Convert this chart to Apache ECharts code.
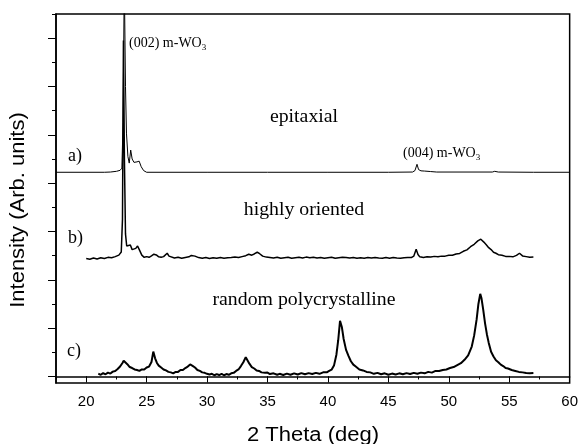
<!DOCTYPE html>
<html>
<head>
<meta charset="utf-8">
<title>XRD of WO3 films</title>
<script src="https://cdn.jsdelivr.net/npm/echarts@6/dist/echarts.min.js"></script>
<style>
  html, body { margin: 0; padding: 0; background: #fff; }
  #chart { width: 581px; height: 444px; }
</style>
</head>
<body>
<div id="chart"></div>
<script>
// axis ticks
var xMajorTicks = [20, 25, 30, 35, 40, 45, 50, 55, 60];
var yMinorTicks = [0, 1, 2, 3, 4, 5, 6, 7, 8, 9, 10, 11, 12, 13, 14, 15];
var yMajorTicks = [0, 2, 4, 6, 8, 10, 12, 14];

// a) epitaxial  [2theta, intensity]
var epitaxial = [
  [17.5, 8.45], [21.5, 8.45], [22.0, 8.46], [22.5, 8.49], [22.8, 8.53], [22.95, 8.62],
  [23.05, 10.5], [23.15, 16.5], [23.25, 12.0], [23.33, 10.07], [23.45, 9.1], [23.56, 8.83],
  [23.68, 9.37], [23.8, 9.0], [23.95, 8.86], [24.05, 8.83], [24.2, 8.88], [24.38, 8.91],
  [24.55, 8.68], [24.75, 8.52], [25.0, 8.45], [30.0, 8.45], [35.0, 8.45], [40.0, 8.45],
  [45.0, 8.45], [47.0, 8.46], [47.2, 8.52], [47.37, 8.78], [47.5, 8.56], [47.7, 8.51],
  [48.0, 8.50], [48.5, 8.48], [49.0, 8.46], [53.6, 8.46], [53.8, 8.49], [54.1, 8.46],
  [57.0, 8.45], [60.0, 8.45]
];

// b) highly oriented
var highlyOriented = [
  [20.0, 4.88], [20.3, 4.85], [20.6, 4.90], [20.9, 4.86], [21.2, 4.91], [21.5, 4.88],
  [21.8, 4.93], [22.1, 4.91], [22.4, 4.96], [22.7, 5.02], [22.9, 5.15], [23.0, 6.5],
  [23.08, 13.9], [23.16, 9.0], [23.25, 5.9], [23.35, 5.4], [23.5, 5.32], [23.65, 5.44],
  [23.8, 5.25], [23.95, 5.17], [24.1, 5.30], [24.25, 5.40], [24.4, 5.24], [24.6, 5.02],
  [24.8, 4.93], [25.0, 4.96], [25.2, 4.93], [25.4, 4.99], [25.6, 5.06], [25.8, 5.03],
  [26.0, 4.95], [26.2, 4.93], [26.4, 4.96], [26.55, 5.02], [26.7, 5.10], [26.85, 4.98],
  [27.0, 4.93], [27.3, 4.90], [27.6, 4.93], [27.9, 4.89], [28.2, 4.92], [28.5, 4.95],
  [28.7, 5.01], [28.85, 5.05], [29.0, 4.98], [29.3, 4.92], [29.6, 4.89], [29.9, 4.92],
  [30.2, 4.88], [30.5, 4.91], [30.8, 4.89], [31.1, 4.92], [31.4, 4.89], [31.7, 4.91],
  [32.0, 4.92], [32.3, 4.94], [32.6, 4.92], [32.9, 4.96], [33.2, 5.00], [33.45, 5.06],
  [33.7, 5.02], [33.9, 5.07], [34.15, 5.14], [34.35, 5.08], [34.6, 4.98], [34.9, 4.94],
  [35.2, 4.92], [35.5, 4.90], [35.8, 4.93], [36.1, 4.89], [36.4, 4.91], [36.7, 4.93],
  [37.0, 4.89], [37.3, 4.91], [37.6, 4.93], [37.9, 4.90], [38.2, 4.94], [38.5, 4.91],
  [38.8, 4.93], [39.1, 4.90], [39.4, 4.92], [39.7, 4.89], [40.0, 4.91], [40.3, 4.93],
  [40.6, 4.89], [40.9, 4.91], [41.2, 4.93], [41.5, 4.92], [41.8, 4.90], [42.1, 4.92],
  [42.4, 4.89], [42.7, 4.91], [43.0, 4.89], [43.3, 4.92], [43.6, 4.90], [43.9, 4.92],
  [44.2, 4.90], [44.5, 4.89], [44.8, 4.92], [45.1, 4.89], [45.4, 4.92], [45.7, 4.90],
  [46.0, 4.89], [46.3, 4.91], [46.6, 4.92], [46.9, 4.92], [47.1, 4.98], [47.3, 5.26],
  [47.45, 5.05], [47.6, 4.95], [47.9, 4.92], [48.2, 4.95], [48.5, 4.94], [48.8, 4.97],
  [49.1, 4.95], [49.4, 4.98], [49.7, 4.98], [50.0, 5.02], [50.3, 5.02], [50.6, 5.07],
  [50.9, 5.09], [51.2, 5.18], [51.5, 5.24], [51.8, 5.37], [52.1, 5.47], [52.4, 5.61],
  [52.65, 5.68], [52.9, 5.56], [53.1, 5.45], [53.3, 5.33], [53.5, 5.25], [53.7, 5.14],
  [53.9, 5.10], [54.1, 5.04], [54.4, 5.02], [54.7, 4.97], [55.0, 4.97], [55.3, 4.95],
  [55.6, 5.01], [55.85, 5.10], [56.1, 4.99], [56.4, 4.96], [56.7, 4.93], [57.0, 4.94]
];

// c) random polycrystalline
var randomPoly = [
  [21.0, 0.12], [21.2, 0.07], [21.4, 0.14], [21.6, 0.09], [21.8, 0.16], [22.0, 0.12],
  [22.2, 0.20], [22.4, 0.23], [22.6, 0.31], [22.8, 0.41], [23.0, 0.56], [23.1, 0.65],
  [23.2, 0.57], [23.4, 0.51], [23.6, 0.39], [23.8, 0.35], [24.0, 0.29], [24.2, 0.27],
  [24.4, 0.23], [24.6, 0.29], [24.8, 0.29], [25.0, 0.37], [25.2, 0.41], [25.4, 0.60],
  [25.55, 1.03], [25.7, 0.75], [25.85, 0.56], [26.0, 0.45], [26.2, 0.37], [26.4, 0.29],
  [26.6, 0.25], [26.8, 0.19], [27.0, 0.17], [27.2, 0.13], [27.4, 0.19], [27.6, 0.19],
  [27.8, 0.27], [28.0, 0.27], [28.2, 0.35], [28.4, 0.41], [28.6, 0.50], [28.7, 0.52],
  [28.8, 0.44], [29.0, 0.37], [29.2, 0.27], [29.4, 0.23], [29.6, 0.17], [29.8, 0.15],
  [30.0, 0.11], [30.2, 0.08], [30.4, 0.11], [30.6, 0.05], [30.8, 0.10], [31.0, 0.06],
  [31.2, 0.11], [31.4, 0.05], [31.6, 0.10], [31.8, 0.07], [32.0, 0.13], [32.2, 0.15],
  [32.4, 0.23], [32.6, 0.29], [32.8, 0.43], [33.0, 0.59], [33.2, 0.80], [33.3, 0.72],
  [33.5, 0.53], [33.7, 0.39], [33.9, 0.33], [34.1, 0.25], [34.3, 0.23], [34.5, 0.17],
  [34.8, 0.15], [35.0, 0.16], [35.2, 0.10], [35.5, 0.13], [35.8, 0.07], [36.0, 0.11],
  [36.3, 0.06], [36.6, 0.12], [36.9, 0.07], [37.2, 0.13], [37.5, 0.08], [37.8, 0.14],
  [38.1, 0.09], [38.4, 0.14], [38.7, 0.10], [39.0, 0.15], [39.3, 0.11], [39.6, 0.17],
  [39.9, 0.17], [40.1, 0.23], [40.3, 0.28], [40.5, 0.45], [40.7, 0.90], [40.85, 1.50],
  [41.0, 2.30], [41.06, 2.37], [41.15, 2.05], [41.3, 1.55], [41.5, 1.10], [41.7, 0.85],
  [41.9, 0.63], [42.1, 0.49], [42.3, 0.41], [42.6, 0.29], [42.9, 0.25], [43.2, 0.19],
  [43.5, 0.17], [43.8, 0.11], [44.1, 0.15], [44.4, 0.09], [44.7, 0.13], [45.0, 0.07],
  [45.3, 0.12], [45.6, 0.08], [45.9, 0.13], [46.2, 0.09], [46.5, 0.14], [46.8, 0.10],
  [47.1, 0.15], [47.4, 0.11], [47.7, 0.16], [48.0, 0.13], [48.3, 0.19], [48.6, 0.16],
  [48.9, 0.23], [49.2, 0.23], [49.5, 0.27], [49.8, 0.29], [50.1, 0.35], [50.4, 0.39],
  [50.7, 0.47], [51.0, 0.55], [51.3, 0.69], [51.6, 0.87], [51.9, 1.24], [52.1, 1.70],
  [52.3, 2.35], [52.45, 3.00], [52.6, 3.42], [52.7, 3.25], [52.85, 2.76], [53.0, 2.20],
  [53.15, 1.75], [53.3, 1.40], [53.5, 1.02], [53.7, 0.83], [53.9, 0.67], [54.1, 0.59],
  [54.3, 0.49], [54.5, 0.43], [54.7, 0.35], [54.9, 0.33], [55.2, 0.27], [55.5, 0.23],
  [55.8, 0.19], [56.1, 0.17], [56.4, 0.14], [56.7, 0.13], [57.0, 0.14]
];

var serif = '"Liberation Serif", "Times New Roman", serif';
var sans = '"Liberation Sans", Arial, sans-serif';

var myChart = echarts.init(document.getElementById('chart'), null, { renderer: 'canvas' });

// width of the main part of the annotation, to put the subscript right after it
var measureCtx = document.createElement('canvas').getContext('2d');
function textWidth(text, font) {
  measureCtx.font = font;
  return measureCtx.measureText(text).width;
}

function note(text, x, y, size, align, sx) {
  return {
    type: 'text', x: x, y: y, scaleX: sx || 1, z: 10,
    style: { text: text, fontSize: size, fontFamily: serif, fill: '#000', align: align, verticalAlign: 'middle' }
  };
}

function wo3(text, x, y) {
  var w = textWidth(text, '14px ' + serif);
  return [note(text, x, y, 14, 'left'), note('3', x + w, y + 5, 9, 'left')];
}

var graphics = [
  note('a)', 68, 156, 18, 'left'),
  note('b)', 68, 238, 18, 'left'),
  note('c)', 67, 351, 18, 'left'),
  note('epitaxial', 304, 117, 18, 'center', 1.1),
  note('highly oriented', 304, 210, 18, 'center', 1.1),
  note('random polycrystalline', 304, 300, 18, 'center', 1.1),
  {
    type: 'text', x: 313, y: 435, scaleX: 1.1,
    style: { text: '2 Theta (deg)', fontSize: 20, fontFamily: sans, fill: '#000', align: 'center', verticalAlign: 'middle' }
  },
  {
    type: 'text', x: 18, y: 210, rotation: Math.PI / 2, scaleX: 1.1,
    style: { text: 'Intensity (Arb. units)', fontSize: 20, fontFamily: sans, fill: '#000', align: 'center', verticalAlign: 'middle' }
  }
].concat(wo3('(002) m-WO', 129, 43)).concat(wo3('(004) m-WO', 403, 153));

function lineSerie(name, data, width) {
  return {
    name: name,
    type: 'line',
    data: data,
    symbol: 'none',
    clip: true,
    lineStyle: { color: '#000', width: width },
    emphasis: { disabled: true }
  };
}

var option = {
  animation: false,
  backgroundColor: '#fff',
  grid: {
    left: 56, right: 9, top: 14, bottom: 61,
    show: true, borderColor: '#000', borderWidth: 1.5, backgroundColor: 'transparent'
  },
  xAxis: [{
    type: 'value', min: 17.5, max: 60, interval: 2.5,
    axisLine: { show: true, lineStyle: { color: '#000', width: 1.5 } },
    axisTick: { show: true, length: 3, lineStyle: { color: '#000', width: 1 } },
    axisLabel: { show: false },
    splitLine: { show: false }
  }, {
    type: 'value', min: 17.5, max: 60, position: 'bottom',
    axisLine: { show: false },
    axisTick: { show: true, length: 6, customValues: xMajorTicks, lineStyle: { color: '#000', width: 1 } },
    axisLabel: { show: true, customValues: xMajorTicks, margin: 11, color: '#000', fontSize: 15, fontFamily: sans },
    splitLine: { show: false }
  }],
  yAxis: [{
    type: 'value', min: -0.27, max: 15,
    axisLine: { show: true, lineStyle: { color: '#000', width: 1.5 } },
    axisTick: { show: true, length: 4, customValues: yMinorTicks, lineStyle: { color: '#000', width: 1 } },
    axisLabel: { show: false },
    splitLine: { show: false }
  }, {
    type: 'value', min: -0.27, max: 15, position: 'left',
    axisLine: { show: false },
    axisTick: { show: true, length: 8, customValues: yMajorTicks, lineStyle: { color: '#000', width: 1 } },
    axisLabel: { show: false },
    splitLine: { show: false }
  }],
  graphic: graphics,
  series: [
    lineSerie('epitaxial', epitaxial, 1),
    lineSerie('highly oriented', highlyOriented, 1.5),
    lineSerie('random polycrystalline', randomPoly, 2)
  ]
};

myChart.setOption(option);
</script>
</body>
</html>
